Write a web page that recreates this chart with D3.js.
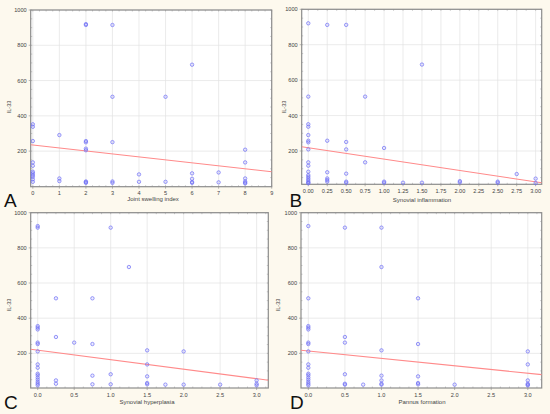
<!DOCTYPE html>
<html>
<head>
<meta charset="utf-8">
<script src="https://cdn.jsdelivr.net/npm/d3@7"></script>
<style>
  body { margin: 0; background: #fdf9ee; }
  svg { display: block; font-family: "Liberation Sans", Arial, sans-serif; }
</style>
</head>
<body>
<div id="chart"></div>
<script>
// IL-33 values vs histology / clinical scores
var xA = [0,0,0,0,0,0,0,0,0,0,0, 1,1,1, 2,2,2,2,2,2,2,2,2, 3,3,3,3,3, 4,4, 5,5, 6,6,6,6,6, 7,7, 8,8,8,8,8,8];
var yA = [352,338,257,136,117,83,74,64,55,40,26, 291,45,30, 920,915,257,250,214,205,28,24,20, 915,508,251,28,20, 68,26, 508,26, 690,74,43,25,20, 79,23, 208,136,45,28,21,17];

var xB = [0,0,0,0,0,0,0,0,0,0,0,0,0,0,0,0,0,0, 0.25,0.25,0.25,0.25,0.25,0.25, 0.5,0.5,0.5,0.5,0.5,0.5, 0.75,0.75, 1,1,1, 1.25, 1.5,1.5, 2,2, 2.5,2.5, 2.75, 3,3];
var yB = [921,507,351,337,290,258,249,209,136,117,83,64,55,45,36,27,21,18, 912,258,80,45,36,27, 912,251,209,72,27,21, 507,136, 217,27,21, 21, 688,21, 30,23, 27,21, 70, 44,19];

var xC = [0,0,0,0,0,0,0,0,0,0,0,0,0,0,0,0,0, 0.25,0.25,0.25,0.25, 0.5, 0.75,0.75,0.75,0.75, 1,1,1, 1.25, 1.5,1.5,1.5,1.5,1.5, 1.75, 2,2, 2.5, 3,3,3];
var yC = [924,915,355,346,336,261,253,211,137,118,84,75,62,50,37,27,18, 513,293,46,27, 261, 513,253,73,24, 915,81,24, 691, 217,137,69,31,24, 22, 211,22, 22, 46,27,18];

var xD = [0,0,0,0,0,0,0,0,0,0,0,0,0,0,0,0,0, 0.5,0.5,0.5,0.5,0.5,0.5, 0.75, 1,1,1,1,1,1,1, 1.5,1.5,1.5,1.5,1.5, 2, 3,3,3,3,3,3];
var yD = [924,513,355,346,336,261,253,211,137,118,84,75,62,50,37,27,18, 915,293,261,81,27,22, 22, 915,691,217,73,46,27,22, 513,253,69,31,24, 22, 211,137,46,27,22,18];

// fitted regression lines: IL-33 = intercept + slope * score
var regIntercept = [235, 218, 218, 213];
var regSlope = [-16.9, -64, -54, -42];

var yTicks = [200, 400, 600, 800, 1000];
var xTicksA = [0,1,2,3,4,5,6,7,8,9];
var xTicksB = [0,0.25,0.5,0.75,1,1.25,1.5,1.75,2,2.25,2.5,2.75,3];
var xTicksCD = [0,0.5,1,1.5,2,2.5,3];

var xTitles = ["Joint swelling index", "Synovial inflammation", "Synovial hyperplasia", "Pannus formation"];
var letters = ["A", "B", "C", "D"];

// Panel layout
var panels = [
  { x: xA, y: yA, ticks: xTicksA, fmt: d3.format("d"), minor: 4,
    left: 30.7, right: 271.7, top: 10, bottom: 186.7, xd: [-0.08, 9], yd: [0, 1000], yr: [186.4, 10],
    ytx: 11, yty: 107, xtx: 153, xty: 201, lx: 4, ly: 207 },
  { x: xB, y: yB, ticks: xTicksB, fmt: d3.format(".2f"), minor: 2,
    left: 301.7, right: 541.7, top: 9.3, bottom: 184.3, xd: [-0.087, 3.08], yd: [12, 1000], yr: [184.3, 9.3],
    ytx: 286, yty: 107, xtx: 422, xty: 202, lx: 289.5, ly: 207 },
  { x: xC, y: yC, ticks: xTicksCD, fmt: d3.format(".1f"), minor: 4,
    left: 30.7, right: 268.3, top: 212.7, bottom: 388, xd: [-0.096, 3.16], yd: [0, 1000], yr: [388.5, 212.7],
    ytx: 11, yty: 305, xtx: 147, xty: 404, lx: 4, ly: 409 },
  { x: xD, y: yD, ticks: xTicksCD, fmt: d3.format(".1f"), minor: 4,
    left: 301, right: 541.7, top: 212.7, bottom: 388, xd: [-0.1, 3.19], yd: [0, 1000], yr: [388.5, 212.7],
    ytx: 280, yty: 305, xtx: 422, xty: 404, lx: 290, ly: 409 }
];

var svg = d3.select("#chart")
  .append("svg")
  .attr("width", 550)
  .attr("height", 414);

svg.append("rect")
  .attr("width", 550)
  .attr("height", 414)
  .attr("fill", "#fdf9ee");

panels.forEach(function(p, i) {
  var xScale = d3.scaleLinear().domain(p.xd).range([p.left, p.right]);
  var yScale = d3.scaleLinear().domain(p.yd).range(p.yr);
  var g = svg.append("g");

  // plot area
  g.append("rect")
    .attr("x", p.left)
    .attr("y", p.top)
    .attr("width", p.right - p.left)
    .attr("height", p.bottom - p.top)
    .attr("fill", "#ffffff");

  // grid
  g.selectAll(".vgrid")
    .data(p.ticks)
    .enter()
    .append("line")
    .attr("x1", d => xScale(d))
    .attr("x2", d => xScale(d))
    .attr("y1", p.top)
    .attr("y2", p.bottom)
    .attr("stroke", "#e2e2e2")
    .attr("stroke-width", 0.7);

  g.selectAll(".hgrid")
    .data(yTicks)
    .enter()
    .append("line")
    .attr("x1", p.left)
    .attr("x2", p.right)
    .attr("y1", d => yScale(d))
    .attr("y2", d => yScale(d))
    .attr("stroke", "#e2e2e2")
    .attr("stroke-width", 0.7);

  // minor ticks along the frame
  var step = p.ticks[1] - p.ticks[0];
  var xMinor = [];
  for (var t = p.ticks[0]; t <= p.xd[1] + 1e-9; t += step / p.minor) xMinor.push(t);
  var yMinor = d3.range(50, 1001, 50);

  xMinor.forEach(function(t) {
    [p.bottom, p.top].forEach(function(edge, k) {
      g.append("line")
        .attr("x1", xScale(t)).attr("x2", xScale(t))
        .attr("y1", edge).attr("y2", k === 0 ? edge - 1.5 : edge + 1.5)
        .attr("stroke", "#999").attr("stroke-width", 0.5);
    });
  });
  yMinor.filter(v => v >= p.yd[0]).forEach(function(v) {
    [p.left, p.right].forEach(function(edge, k) {
      g.append("line")
        .attr("x1", edge).attr("x2", k === 0 ? edge + 1.5 : edge - 1.5)
        .attr("y1", yScale(v)).attr("y2", yScale(v))
        .attr("stroke", "#999").attr("stroke-width", 0.5);
    });
  });

  // major tick marks outside
  g.selectAll(".xt")
    .data(p.ticks)
    .enter()
    .append("line")
    .attr("x1", d => xScale(d)).attr("x2", d => xScale(d))
    .attr("y1", p.bottom).attr("y2", p.bottom + 2)
    .attr("stroke", "#888").attr("stroke-width", 0.6);

  g.selectAll(".yt")
    .data(yTicks)
    .enter()
    .append("line")
    .attr("x1", p.left - 2).attr("x2", p.left)
    .attr("y1", d => yScale(d)).attr("y2", d => yScale(d))
    .attr("stroke", "#888").attr("stroke-width", 0.6);

  // tick labels
  g.selectAll(".xl")
    .data(p.ticks)
    .enter()
    .append("text")
    .attr("x", d => xScale(d))
    .attr("y", p.bottom + 8.5)
    .attr("text-anchor", "middle")
    .attr("font-size", 5.6)
    .attr("fill", "#444")
    .text(d => p.fmt(d));

  g.selectAll(".yl")
    .data(yTicks)
    .enter()
    .append("text")
    .attr("x", p.left - 4)
    .attr("y", d => yScale(d) + 2)
    .attr("text-anchor", "end")
    .attr("font-size", 5.6)
    .attr("fill", "#444")
    .text(d => d);

  // frame
  g.append("rect")
    .attr("x", p.left)
    .attr("y", p.top)
    .attr("width", p.right - p.left)
    .attr("height", p.bottom - p.top)
    .attr("fill", "none")
    .attr("stroke", "#8c8c8c")
    .attr("stroke-width", 1.2);

  // regression line
  var clip = "clip" + i;
  svg.append("clipPath").attr("id", clip)
    .append("rect")
    .attr("x", p.left).attr("y", p.top)
    .attr("width", p.right - p.left).attr("height", p.bottom - p.top);

  g.append("line")
    .attr("clip-path", "url(#" + clip + ")")
    .attr("x1", xScale(p.xd[0]))
    .attr("y1", yScale(regIntercept[i] + regSlope[i] * p.xd[0]))
    .attr("x2", xScale(p.xd[1]))
    .attr("y2", yScale(regIntercept[i] + regSlope[i] * p.xd[1]))
    .attr("stroke", "#ff8a8a")
    .attr("stroke-width", 1.1);

  // points
  g.selectAll("circle")
    .data(p.x.map((v, j) => [v, p.y[j]]))
    .enter()
    .append("circle")
    .attr("cx", d => xScale(d[0]))
    .attr("cy", d => yScale(d[1]))
    .attr("r", 1.7)
    .attr("fill", "rgba(130,130,255,0.15)")
    .attr("stroke", "#6f6ff5")
    .attr("stroke-width", 0.7);

  // axis titles
  g.append("text")
    .attr("transform", `translate(${p.ytx}, ${p.yty}) rotate(-90)`)
    .attr("text-anchor", "middle")
    .attr("font-size", 5.6)
    .attr("fill", "#444")
    .text("IL-33");

  g.append("text")
    .attr("x", p.xtx)
    .attr("y", p.xty)
    .attr("text-anchor", "middle")
    .attr("font-size", 6)
    .attr("fill", "#444")
    .text(xTitles[i]);

  g.append("text")
    .attr("x", p.lx)
    .attr("y", p.ly)
    .attr("font-size", 19)
    .attr("fill", "#111")
    .text(letters[i]);
});
</script>
</body>
</html>
